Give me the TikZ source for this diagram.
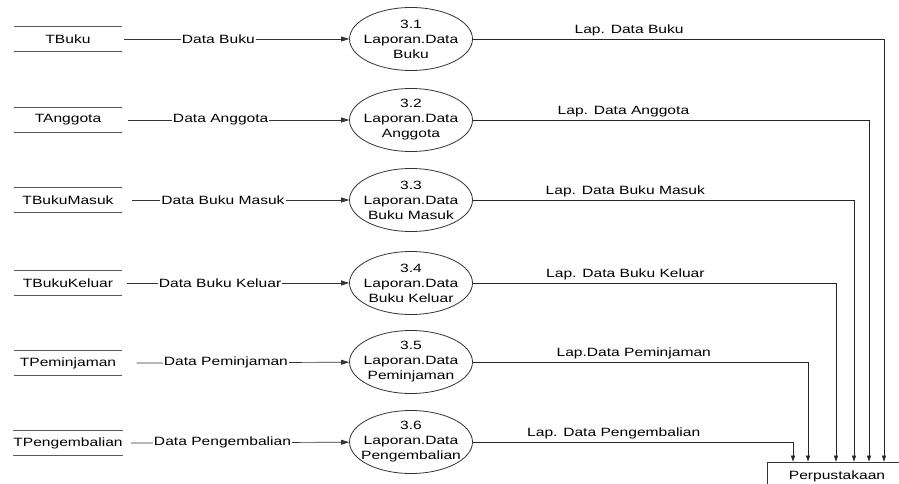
\documentclass[tikz,border=0pt]{standalone}
\usepackage{fontspec}
\setmainfont{Liberation Sans}[FakeStretch=1.3]
\usetikzlibrary{shapes.geometric, arrows.meta, positioning, calc}

\begin{document}
\begin{tikzpicture}[
    x=1pt, y=-1pt,
    font=\fontsize{12}{15}\selectfont,
    storeline/.style={-, draw=black!65, line width=0.9pt},
    store/.style={minimum width=107pt, minimum height=24pt, inner sep=0pt,
        append after command={(\tikzlastnode.north west) edge[storeline] (\tikzlastnode.north east)
            (\tikzlastnode.south west) edge[storeline] (\tikzlastnode.south east)}},
    process/.style={ellipse, draw=black!80, line width=0.8pt, minimum width=123pt, minimum height=63pt, inner xsep=-7pt, inner ysep=0pt, align=center},
    entity/.style={rectangle, draw=black!80, line width=0.8pt, minimum width=140pt, minimum height=28pt},
    flow/.style={-{Triangle[length=8pt, width=5pt]}, draw=black!80, line width=0.7pt},
    report/.style={-{Triangle[length=6pt, width=4pt]}, draw=black!85, line width=0.7pt},
    inlabel/.style={fill=white, inner sep=1pt, pos=0.42},
    outlabel/.style={above, inner sep=3pt}
]
    \useasboundingbox (0,0) rectangle (899,484);
    \clip (0,0) rectangle (899,484);

    % Data stores
    \node[store] (tbuku) at (68, 39) {TBuku};
    \node[store] (tanggota) at (68, 120) {TAnggota};
    \node[store] (tmasuk) at (68, 200) {TBukuMasuk};
    \node[store] (tkeluar) at (68, 283) {TBukuKeluar};
    \node[store] (tpinjam) at (68, 363) {TPeminjaman};
    \node[store] (tkembali) at (68, 443) {TPengembalian};

    % Processes
    \node[process] (p31) at (411, 39) {3.1\\Laporan.Data\\Buku};
    \node[process] (p32) at (411, 120) {3.2\\Laporan.Data\\Anggota};
    \node[process] (p33) at (411, 200) {3.3\\Laporan.Data\\Buku Masuk};
    \node[process] (p34) at (411, 283) {3.4\\Laporan.Data\\Buku Keluar};
    \node[process] (p35) at (411, 362) {3.5\\Laporan.Data\\Peminjaman};
    \node[process] (p36) at (411, 442) {3.6\\Laporan.Data\\Pengembalian};

    % Input flows
    \draw[flow] ([xshift=2pt]tbuku.east) -- node[inlabel] {Data Buku} (p31);
    \draw[flow] ([xshift=6pt]tanggota.east) -- node[inlabel] {Data Anggota} (p32);
    \draw[flow] ([xshift=10pt]tmasuk.east) -- node[inlabel] {Data Buku Masuk} (p33);
    \draw[flow] ([xshift=5pt]tkeluar.east) -- node[inlabel] {Data Buku Keluar} (p34);
    \draw[flow] ([xshift=15pt]tpinjam.east) -- node[inlabel] {Data Peminjaman} (p35);
    \draw[flow] ([xshift=8pt]tkembali.east) -- node[inlabel] {Data Pengembalian} (p36);

    % Perpustakaan
    \node[entity] (perpus) at (837, 476) {Perpustakaan};
    \coordinate (in1) at ($(perpus.north)+(47,0)$);
    \coordinate (in2) at ($(perpus.north)+(32,0)$);
    \coordinate (in3) at ($(perpus.north)+(17,0)$);
    \coordinate (in4) at ($(perpus.north)+(-1,0)$);
    \coordinate (in5) at ($(perpus.north)+(-29,0)$);
    \coordinate (in6) at ($(perpus.north)+(-44,0)$);

    % Report flows
    \draw[report] (p31) -| node[outlabel, pos=0.19] {Lap. Data Buku} (in1);
    \draw[report] (p32) -| node[outlabel, pos=0.19] {Lap. Data Anggota} (in2);
    \draw[report] (p33) -| node[outlabel, pos=0.20] {Lap. Data Buku Masuk} (in3);
    \draw[report] (p34) -| node[outlabel, pos=0.21] {Lap. Data Buku Keluar} (in4);
    \draw[report] (p35) -| node[outlabel, pos=0.24] {Lap.Data Peminjaman} (in5);
    \draw[report] (p36) -| node[outlabel, pos=0.22] {Lap. Data Pengembalian} (in6);

\end{tikzpicture}
\end{document}
